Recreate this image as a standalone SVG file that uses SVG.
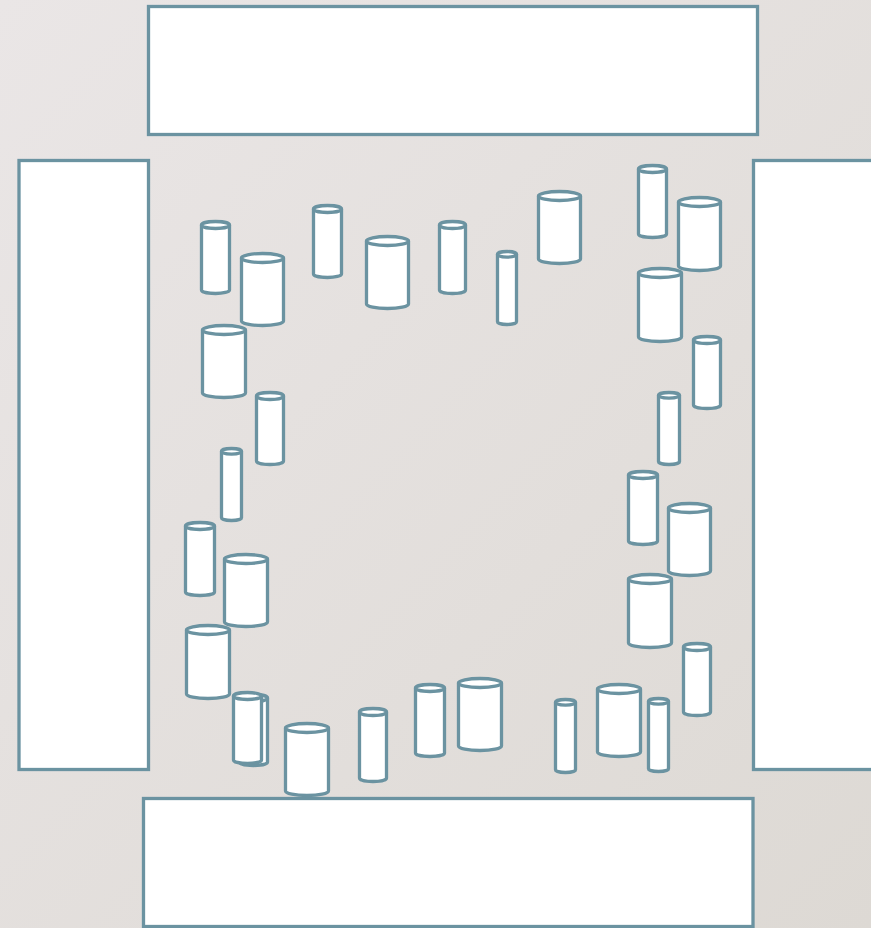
<svg xmlns="http://www.w3.org/2000/svg" width="871" height="928" viewBox="0 0 871 928">
<defs>
<linearGradient id="bg" x1="0" y1="0" x2="1" y2="1">
<stop offset="0" stop-color="#eae6e6"/>
<stop offset="1" stop-color="#ddd9d4"/>
</linearGradient>
<style>
.r{fill:#fff;stroke:#6b93a1;stroke-width:3.3}
.c{fill:#fff;stroke:#6b93a1;stroke-width:3.3;stroke-linejoin:round}
</style>
</defs>
<rect x="0" y="0" width="871" height="928" fill="url(#bg)"/>
<g id="box-top"><rect class="r" x="148.5" y="6.5" width="609" height="128"/></g>
<g id="box-left"><rect class="r" x="19" y="160.5" width="129.5" height="609"/></g>
<g id="box-right"><rect class="r" x="753.5" y="160.5" width="130" height="609"/></g>
<g id="box-bottom"><rect class="r" x="143.5" y="798.5" width="609.5" height="128"/></g>
<g id="cylinders">
<g id="cA"><path class="c" d="M201.5,225 V290 A14,3.5 0 0 0 229.5,290 V225 Z"/><ellipse class="c" cx="215.5" cy="225" rx="14" ry="3.5"/></g>
<g id="cB"><path class="c" d="M241.5,258 V321 A21,4.5 0 0 0 283.5,321 V258 Z"/><ellipse class="c" cx="262.5" cy="258" rx="21" ry="4.5"/></g>
<g id="cC"><path class="c" d="M313.5,209 V274 A14,3.5 0 0 0 341.5,274 V209 Z"/><ellipse class="c" cx="327.5" cy="209" rx="14" ry="3.5"/></g>
<g id="cD"><path class="c" d="M366.5,241 V304 A21,4.5 0 0 0 408.5,304 V241 Z"/><ellipse class="c" cx="387.5" cy="241" rx="21" ry="4.5"/></g>
<g id="cE"><path class="c" d="M439.5,225 V290 A13,3.5 0 0 0 465.5,290 V225 Z"/><ellipse class="c" cx="452.5" cy="225" rx="13" ry="3.5"/></g>
<g id="cF"><path class="c" d="M497.5,254.3 V321.7 A9.5,2.8 0 0 0 516.5,321.7 V254.3 Z"/><ellipse class="c" cx="507" cy="254.3" rx="9.5" ry="2.8"/></g>
<g id="cG"><path class="c" d="M538.5,196 V259 A21,4.5 0 0 0 580.5,259 V196 Z"/><ellipse class="c" cx="559.5" cy="196" rx="21" ry="4.5"/></g>
<g id="cH"><path class="c" d="M638.5,169 V234 A14,3.5 0 0 0 666.5,234 V169 Z"/><ellipse class="c" cx="652.5" cy="169" rx="14" ry="3.5"/></g>
<g id="cI"><path class="c" d="M678.5,202 V266 A21,4.5 0 0 0 720.5,266 V202 Z"/><ellipse class="c" cx="699.5" cy="202" rx="21" ry="4.5"/></g>
<g id="cJ"><path class="c" d="M638.5,273 V337 A21.5,4.5 0 0 0 681.5,337 V273 Z"/><ellipse class="c" cx="660" cy="273" rx="21.5" ry="4.5"/></g>
<g id="cK"><path class="c" d="M693.5,340 V405 A13.5,3.5 0 0 0 720.5,405 V340 Z"/><ellipse class="c" cx="707" cy="340" rx="13.5" ry="3.5"/></g>
<g id="cL"><path class="c" d="M658.5,395.3 V461.7 A10.5,2.8 0 0 0 679.5,461.7 V395.3 Z"/><ellipse class="c" cx="669" cy="395.3" rx="10.5" ry="2.8"/></g>
<g id="cM"><path class="c" d="M628.5,475 V541 A14.5,3.5 0 0 0 657.5,541 V475 Z"/><ellipse class="c" cx="643" cy="475" rx="14.5" ry="3.5"/></g>
<g id="cN"><path class="c" d="M668.5,508 V571 A21,4.5 0 0 0 710.5,571 V508 Z"/><ellipse class="c" cx="689.5" cy="508" rx="21" ry="4.5"/></g>
<g id="cO"><path class="c" d="M628.5,579 V643 A21.5,4.5 0 0 0 671.5,643 V579 Z"/><ellipse class="c" cx="650" cy="579" rx="21.5" ry="4.5"/></g>
<g id="cP"><path class="c" d="M683.5,647 V712 A13.5,3.5 0 0 0 710.5,712 V647 Z"/><ellipse class="c" cx="697" cy="647" rx="13.5" ry="3.5"/></g>
<g id="cQ"><path class="c" d="M555.5,702.3 V769.7 A10,2.8 0 0 0 575.5,769.7 V702.3 Z"/><ellipse class="c" cx="565.5" cy="702.3" rx="10" ry="2.8"/></g>
<g id="cR"><path class="c" d="M597.5,689 V752 A21.5,4.5 0 0 0 640.5,752 V689 Z"/><ellipse class="c" cx="619" cy="689" rx="21.5" ry="4.5"/></g>
<g id="cS"><path class="c" d="M648.5,701.3 V768.7 A10,2.8 0 0 0 668.5,768.7 V701.3 Z"/><ellipse class="c" cx="658.5" cy="701.3" rx="10" ry="2.8"/></g>
<g id="cT"><path class="c" d="M415.5,688 V753 A14.5,3.5 0 0 0 444.5,753 V688 Z"/><ellipse class="c" cx="430" cy="688" rx="14.5" ry="3.5"/></g>
<g id="cU"><path class="c" d="M458.5,683 V746 A21.5,4.5 0 0 0 501.5,746 V683 Z"/><ellipse class="c" cx="480" cy="683" rx="21.5" ry="4.5"/></g>
<g id="cV"><path class="c" d="M359.5,712 V778 A13.5,3.5 0 0 0 386.5,778 V712 Z"/><ellipse class="c" cx="373" cy="712" rx="13.5" ry="3.5"/></g>
<g id="cW"><path class="c" d="M285.5,728 V791 A21.5,4.5 0 0 0 328.5,791 V728 Z"/><ellipse class="c" cx="307" cy="728" rx="21.5" ry="4.5"/></g>
<g id="cX2"><path class="c" d="M239.5,698 V762 A14,3.5 0 0 0 267.5,762 V698 Z"/><ellipse class="c" cx="253.5" cy="698" rx="14" ry="3.5"/></g>
<g id="cX1"><path class="c" d="M233.5,696 V760 A14,3.5 0 0 0 261.5,760 V696 Z"/><ellipse class="c" cx="247.5" cy="696" rx="14" ry="3.5"/></g>
<g id="cY"><path class="c" d="M202.5,330 V393 A21.5,4.5 0 0 0 245.5,393 V330 Z"/><ellipse class="c" cx="224" cy="330" rx="21.5" ry="4.5"/></g>
<g id="cZ"><path class="c" d="M256.5,396 V461 A13.5,3.5 0 0 0 283.5,461 V396 Z"/><ellipse class="c" cx="270" cy="396" rx="13.5" ry="3.5"/></g>
<g id="cAA"><path class="c" d="M221.5,451.3 V517.7 A10,2.8 0 0 0 241.5,517.7 V451.3 Z"/><ellipse class="c" cx="231.5" cy="451.3" rx="10" ry="2.8"/></g>
<g id="cAB"><path class="c" d="M185.5,526 V592 A14.5,3.5 0 0 0 214.5,592 V526 Z"/><ellipse class="c" cx="200" cy="526" rx="14.5" ry="3.5"/></g>
<g id="cAC"><path class="c" d="M224.5,559 V622 A21.5,4.5 0 0 0 267.5,622 V559 Z"/><ellipse class="c" cx="246" cy="559" rx="21.5" ry="4.5"/></g>
<g id="cAD"><path class="c" d="M186.5,630 V694 A21.5,4.5 0 0 0 229.5,694 V630 Z"/><ellipse class="c" cx="208" cy="630" rx="21.5" ry="4.5"/></g>
</g>
<g id="connectors"></g>
</svg>
